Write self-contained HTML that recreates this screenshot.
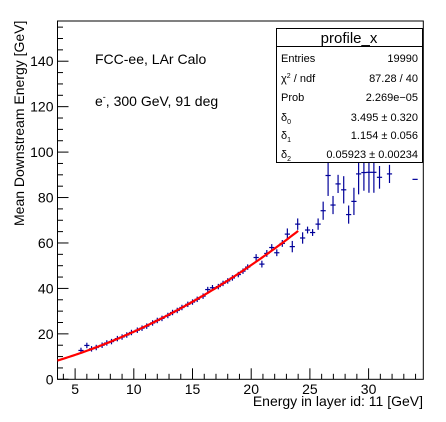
<!DOCTYPE html>
<html><head><meta charset="utf-8"><style>
body{margin:0;background:#fff}
svg{display:block;font-family:"Liberation Sans",sans-serif}
</style></head><body>
<svg id="c" width="446" height="422" viewBox="0 0 446 422" xmlns="http://www.w3.org/2000/svg">
<rect width="446" height="422" fill="#fff"/>
<g id="plot"></g>
<text transform="translate(24,226) rotate(-90)" font-size="14">Mean Downstream Energy [GeV]</text>
<text x="423" y="406" text-anchor="end" font-size="14">Energy in layer id: 11 [GeV]</text>
<text x="95" y="64" font-size="14">FCC-ee, LAr Calo</text>
<text x="95" y="106" font-size="14">e<tspan dy="-6" font-size="9">-</tspan><tspan dy="6">, 300 GeV, 91 deg</tspan></text>
<g>
<rect x="276.5" y="28.5" width="146" height="134" fill="#fff" stroke="#000"/>
<line x1="276.5" y1="46.5" x2="422.5" y2="46.5" stroke="#000"/>
<text x="349" y="43" text-anchor="middle" font-size="15">profile_x</text>
<g font-size="11">
<text x="281" y="62">Entries</text><text x="418" y="62" text-anchor="end">19990</text>
<text x="281" y="82">χ<tspan dy="-4" font-size="7">2</tspan><tspan dy="4"> / ndf</tspan></text><text x="418" y="82" text-anchor="end">87.28 / 40</text>
<text x="281" y="101">Prob</text><text x="418" y="101" text-anchor="end">2.269e−05</text>
<text x="281" y="121">δ<tspan dy="3" font-size="7">0</tspan></text><text x="418" y="121" text-anchor="end">3.495 ± 0.320</text>
<text x="281" y="139">δ<tspan dy="3" font-size="7">1</tspan></text><text x="418" y="139" text-anchor="end">1.154 ± 0.056</text>
<text x="281" y="158">δ<tspan dy="3" font-size="7">2</tspan></text><text x="418" y="158" text-anchor="end">0.05923 ± 0.00234</text>
</g></g>
</svg>
<script>
const xVals=[5.5,6.0,6.4,6.8,7.3,7.7,8.1,8.6,9.0,9.4,9.8,10.3,10.7,11.1,11.6,12.0,12.4,12.9,13.3,13.7,14.1,14.6,15.0,15.4,15.9,16.3,16.7,17.2,17.6,18.0,18.4,18.9,19.3,19.7,20.42,20.91,21.33,21.75,22.18,22.65,23.08,23.5,23.96,24.38,24.8,25.23,25.7,26.13,26.55,26.97,27.4,27.88,28.3,28.75,29.15,29.6,30.03,30.45,30.93,31.78,33.96];
const yVals=[12.7,14.9,13.4,14.0,15.0,16.0,16.6,17.9,18.6,19.5,20.6,21.6,22.5,23.4,24.8,25.9,26.8,28.1,29.4,30.3,31.6,33.0,34.0,35.2,36.6,39.5,40.3,40.8,42.2,43.3,44.6,46.1,47.6,49.4,53.6,50.7,55.4,58.0,55.7,59.8,63.9,58.4,68.3,62.2,65.7,64.6,68.3,74.2,89.7,76.7,86.0,83.4,72.5,78.3,90.4,91.0,91.1,91.1,88.9,90.4,88.0];
const yErrs=[1.0,1.2,0.5,0.5,0.5,0.5,0.5,0.5,0.5,0.5,0.5,0.5,0.5,0.5,0.5,0.5,0.5,0.5,0.5,0.5,0.5,0.5,0.5,0.5,0.6,0.8,0.6,0.6,0.6,0.6,0.6,0.7,0.7,0.8,1.5,1.5,1.5,1.5,1.5,1.5,2.5,2.5,2.5,2.5,1.5,1.5,2.5,4,9,4,4,6,4,6,9,8,9,9,5,4,0];
const fitParams=[3.495,1.154,0.05923];
const fitRange=[3.5,24.0];
const xTicks=[5,10,15,20,25,30];
const yTicks=[0,20,40,60,80,100,120,140];
const X0=57.5,X1=423.3,Y0=379.3,Y1=21;
const xmin=3.5,xmax=34.66,ymin=0,ymax=157.7;
const sx=v=>X0+(v-xmin)/(xmax-xmin)*(X1-X0);
const sy=v=>Y0-(v-ymin)/(ymax-ymin)*(Y0-Y1);
const NS="http://www.w3.org/2000/svg";
const g=document.getElementById('plot');
function mk(t,a,p){const e=document.createElementNS(NS,t);for(const k in a)e.setAttribute(k,a[k]);(p||g).appendChild(e);return e;}
const fr=mk('rect',{x:X0,y:Y1,width:X1-X0,height:Y0-Y1,fill:'none',stroke:'#000','stroke-width':1});


for(let v=4;v<=34;v++){const maj=v%5===0;const t=mk('line',{x1:sx(v),x2:sx(v),y1:Y0,y2:Y0-(maj?11:5.5),stroke:'#000'});

}
xTicks.forEach(v=>{const t=mk('text',{x:sx(v),y:394,'text-anchor':'middle','font-size':14});t.textContent=v;

});
for(let v=0;v<=155;v+=5){const maj=v%20===0;const t=mk('line',{x1:X0,x2:X0+(maj?11:5.5),y1:sy(v),y2:sy(v),stroke:'#000'});

}
yTicks.forEach(v=>{const t=mk('text',{x:X0-4,y:sy(v)+5,'text-anchor':'end','font-size':14});t.textContent=v;

});
xVals.forEach((x,i)=>{const y=yVals[i],e=yErrs[i];const cx=sx(x),cy=sy(y);
const pg=mk('g',{stroke:'#000099','stroke-width':1.2});


mk('line',{x1:cx-2.6,x2:cx+2.6,y1:cy,y2:cy},pg);
if(e>0){const e2=Math.max(e,1.2);
mk('line',{x1:cx,x2:cx,y1:Math.max(sy(y+e2),Y1),y2:sy(y-e2)},pg);}});
let d='';for(let k=0;k<=120;k++){const x=fitRange[0]+(fitRange[1]-fitRange[0])*k/120;const y=fitParams[0]+fitParams[1]*x+fitParams[2]*x*x;d+=(k?'L':'M')+sx(x).toFixed(2)+','+sy(y).toFixed(2);}
const fl=mk('path',{d:d,fill:'none',stroke:'#ff0000','stroke-width':2.2});


</script>
</body></html>
